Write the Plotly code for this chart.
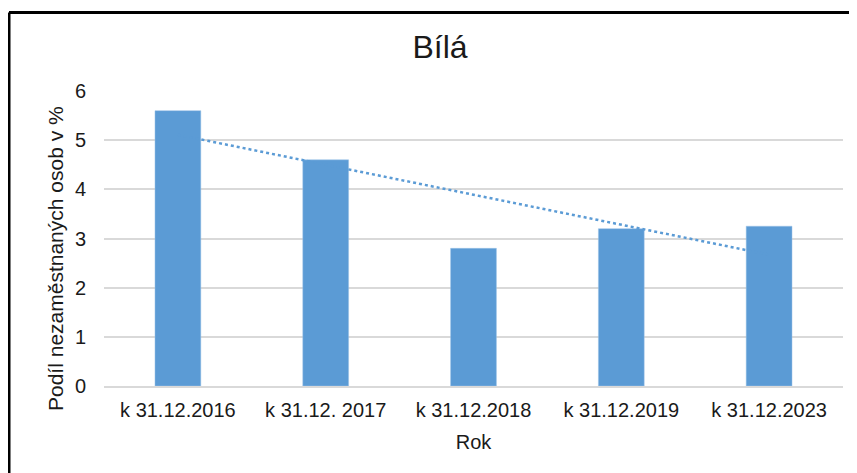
import numpy as np
import plotly.graph_objects as go

# Data
kategorie = ["k 31.12.2016", "k 31.12. 2017", "k 31.12.2018", "k 31.12.2019", "k 31.12.2023"]
podil = [5.6, 4.6, 2.8, 3.2, 3.25]

# Linear trendline (like Excel) fitted to the bar values
idx = np.arange(1, len(podil) + 1)
slope, intercept = np.polyfit(idx, podil, 1)
trend = slope * idx + intercept

barva = "#5B9BD5"
font = "Liberation Sans, Arial, sans-serif"

# page has an 8px body margin, so the figure is a bit smaller than the window
W, H = 849, 465
L, R, T, B = 96, 14, 83, 87
pw, ph = W - L - R, H - T - B

fig = go.Figure()

fig.add_trace(go.Scatter(
    x=kategorie, y=trend, mode="lines",
    line=dict(color=barva, width=2.5, dash="dot"),
    hoverinfo="skip", showlegend=False,
))

fig.add_trace(go.Bar(
    x=kategorie, y=podil,
    marker=dict(color=barva, line=dict(color="#9DC3E6", width=0.5)),
    width=0.31, showlegend=False,
))

fig.update_layout(
    width=W, height=H,
    margin=dict(l=L, r=R, t=T, b=B),
    paper_bgcolor="white", plot_bgcolor="white",
    font=dict(family=font, color="#1a1a1a", size=18),
    title=dict(text="Bílá", x=432 / W, xanchor="center", y=1 - 39 / H, yanchor="middle",
               font=dict(size=32, color="#1a1a1a")),
    xaxis=dict(
        title=dict(text="Rok", font=dict(size=20), standoff=15),
        showline=True, linecolor="#d9d9d9", linewidth=2,
        ticks="", showgrid=False, ticklabelstandoff=5,
        tickfont=dict(size=20),
    ),
    yaxis=dict(
        range=[0, 6], dtick=1,
        showgrid=True, gridcolor="#d9d9d9", gridwidth=2,
        zeroline=False, ticks="", ticklabelstandoff=17,
        tickfont=dict(size=20),
    ),
    annotations=[
        dict(text="Podíl nezaměstnaných osob v %", textangle=-90,
             xref="paper", yref="paper", x=(47 - L) / pw, y=(H - B - 251) / ph,
             xanchor="center", yanchor="middle", showarrow=False,
             font=dict(size=21, color="#1a1a1a")),
    ],
    shapes=[
        dict(type="line", xref="paper", yref="paper",
             x0=(1 - L) / pw, x1=(W + 5 - L) / pw, y0=(H - B - 4.5) / ph, y1=(H - B - 4.5) / ph,
             line=dict(color="black", width=3)),
        dict(type="line", xref="paper", yref="paper",
             x0=(1 - L) / pw, x1=(1 - L) / pw, y0=(H - B - 4.5) / ph, y1=-(B + 5) / ph,
             line=dict(color="black", width=3)),
    ],
)

fig.write_html("out.html")
